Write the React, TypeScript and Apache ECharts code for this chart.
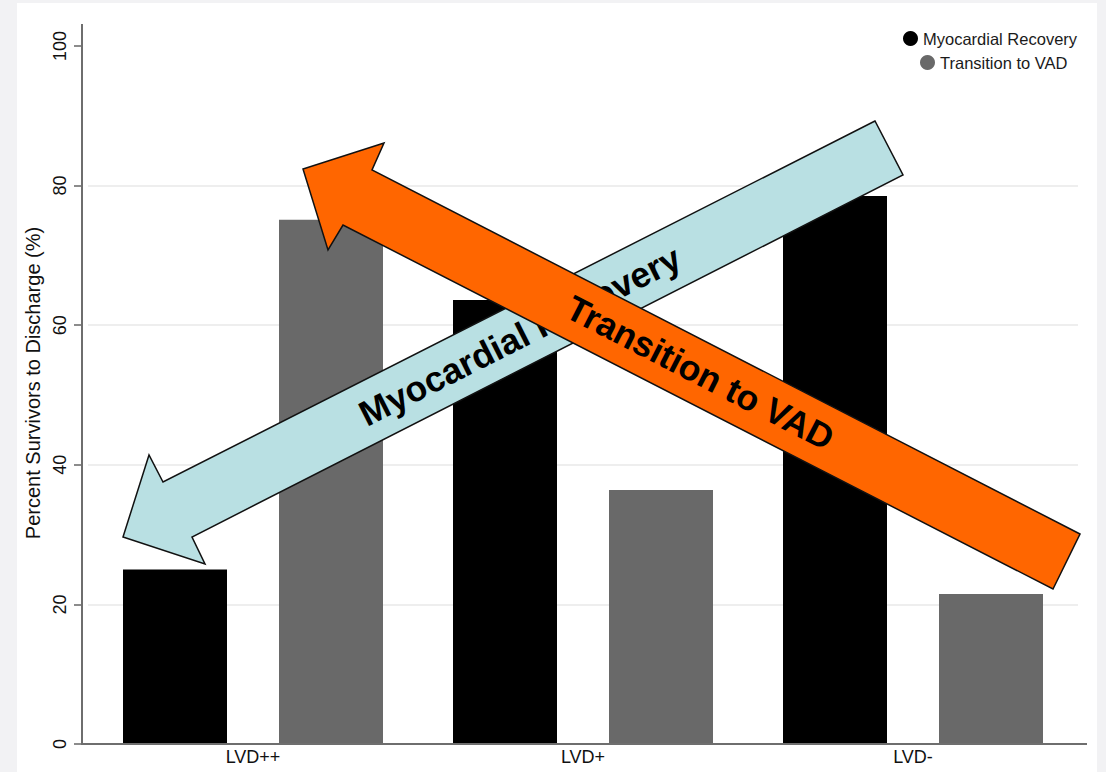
import React, { useEffect, useRef } from "react";
import * as echarts from "echarts";

const categories = ["LVD++", "LVD+", "LVD-"];
const recoveryValues = [25, 63.6, 78.5];
const vadValues = [75.1, 36.4, 21.5];
const seriesNames = ["Myocardial Recovery", "Transition to VAD"];
const yTicks = { min: 0, max: 100, interval: 20 };
const axisTitle = "Percent Survivors to Discharge (%)";
const arrowLabels = ["Myocardial Recovery", "Transition to VAD"];

const FONT = "'Liberation Sans', Arial, Helvetica, sans-serif";

export default function App() {
  const ref = useRef<HTMLDivElement>(null);

  useEffect(() => {
    if (!ref.current) return;
    const chart = echarts.init(ref.current, null, { renderer: "svg" });

    const blueArrow = [
      [875, 121],
      [163, 482],
      [149, 455],
      [123, 537],
      [205, 564],
      [192, 537],
      [903, 175],
    ];
    const orangeArrow = [
      [1080, 534],
      [372, 170],
      [384, 143],
      [303, 169],
      [328, 250],
      [343, 225],
      [1053, 589],
    ];

    const option: any = {
      animation: false,
      textStyle: { fontFamily: FONT },
      grid: { left: 88, right: 28, top: 46, bottom: 28, containLabel: false },
      legend: [
        {
          data: [seriesNames[0]],
          left: 898,
          top: 25,
          icon: "circle",
          itemWidth: 15,
          itemHeight: 15,
          textStyle: { fontSize: 16.5, color: "#1a1a1a", fontFamily: FONT },
        },
        {
          data: [seriesNames[1]],
          left: 915,
          top: 49,
          icon: "circle",
          itemWidth: 15,
          itemHeight: 15,
          textStyle: { fontSize: 16.5, color: "#1a1a1a", fontFamily: FONT },
        },
      ],
      xAxis: {
        type: "category",
        data: categories,
        axisLine: { show: false },
        axisTick: { show: false },
        axisLabel: { fontSize: 18, color: "#111", margin: 4, fontFamily: FONT },
        splitLine: { show: false },
      },
      yAxis: {
        type: "value",
        min: yTicks.min,
        max: yTicks.max,
        interval: yTicks.interval,
        offset: 6,
        name: axisTitle,
        nameLocation: "middle",
        nameGap: 37,
        nameTextStyle: {
          fontSize: 20,
          color: "#111",
          fontFamily: FONT,
          padding: [0, 0, 0, 24],
        },
        axisLine: { show: false },
        axisTick: { show: true, length: 8, lineStyle: { color: "#666", width: 1.5 } },
        axisLabel: { rotate: 90, fontSize: 18, color: "#111", margin: 13, fontFamily: FONT },
        splitLine: {
          show: true,
          showMinLine: false,
          showMaxLine: false,
          lineStyle: { color: "#e9e9e9", width: 1.5 },
        },
      },
      series: [
        {
          name: seriesNames[0],
          type: "bar",
          data: recoveryValues,
          barWidth: 104,
          barGap: "50%",
          itemStyle: { color: "#000000" },
        },
        {
          name: seriesNames[1],
          type: "bar",
          data: vadValues,
          barWidth: 104,
          barGap: "50%",
          itemStyle: { color: "#696969" },
        },
      ],
      graphic: [
        {
          type: "line",
          z: 50,
          shape: { x1: 82, y1: 24, x2: 82, y2: 745 },
          style: { stroke: "#6e6e6e", lineWidth: 2 },
        },
        {
          type: "line",
          z: 50,
          shape: { x1: 82, y1: 744, x2: 1087, y2: 744 },
          style: { stroke: "#6e6e6e", lineWidth: 2 },
        },
        {
          type: "polygon",
          z: 100,
          shape: { points: blueArrow },
          style: { fill: "#b9e0e3", stroke: "#111", lineWidth: 1.5 },
        },
        {
          type: "text",
          z: 101,
          x: 520,
          y: 336,
          rotation: Math.atan2(361, 712),
          style: {
            text: arrowLabels[0],
            font: `bold 35.5px ${FONT}`,
            fill: "#000",
            align: "center",
            verticalAlign: "middle",
            textAlign: "center",
            textVerticalAlign: "middle",
          },
        },
        {
          type: "polygon",
          z: 102,
          shape: { points: orangeArrow },
          style: { fill: "#ff6600", stroke: "#111", lineWidth: 1.5 },
        },
        {
          type: "text",
          z: 103,
          x: 700,
          y: 373,
          rotation: -Math.atan2(364, 708),
          style: {
            text: arrowLabels[1],
            font: `bold 35.5px ${FONT}`,
            fill: "#000",
            align: "center",
            verticalAlign: "middle",
            textAlign: "center",
            textVerticalAlign: "middle",
          },
        },
      ],
    };

    chart.setOption(option);
    return () => chart.dispose();
  }, []);

  return (
    <div
      style={{
        position: "fixed",
        left: 0,
        top: 0,
        width: 1106,
        height: 772,
        background: "#f2f2f4",
        overflow: "hidden",
      }}
    >
      <div
        style={{
          position: "absolute",
          left: 17,
          top: 3,
          width: 1080,
          height: 769,
          background: "#ffffff",
        }}
      />
      <div
        ref={ref}
        style={{ position: "absolute", left: 0, top: 0, width: 1106, height: 772 }}
      />
    </div>
  );
}
